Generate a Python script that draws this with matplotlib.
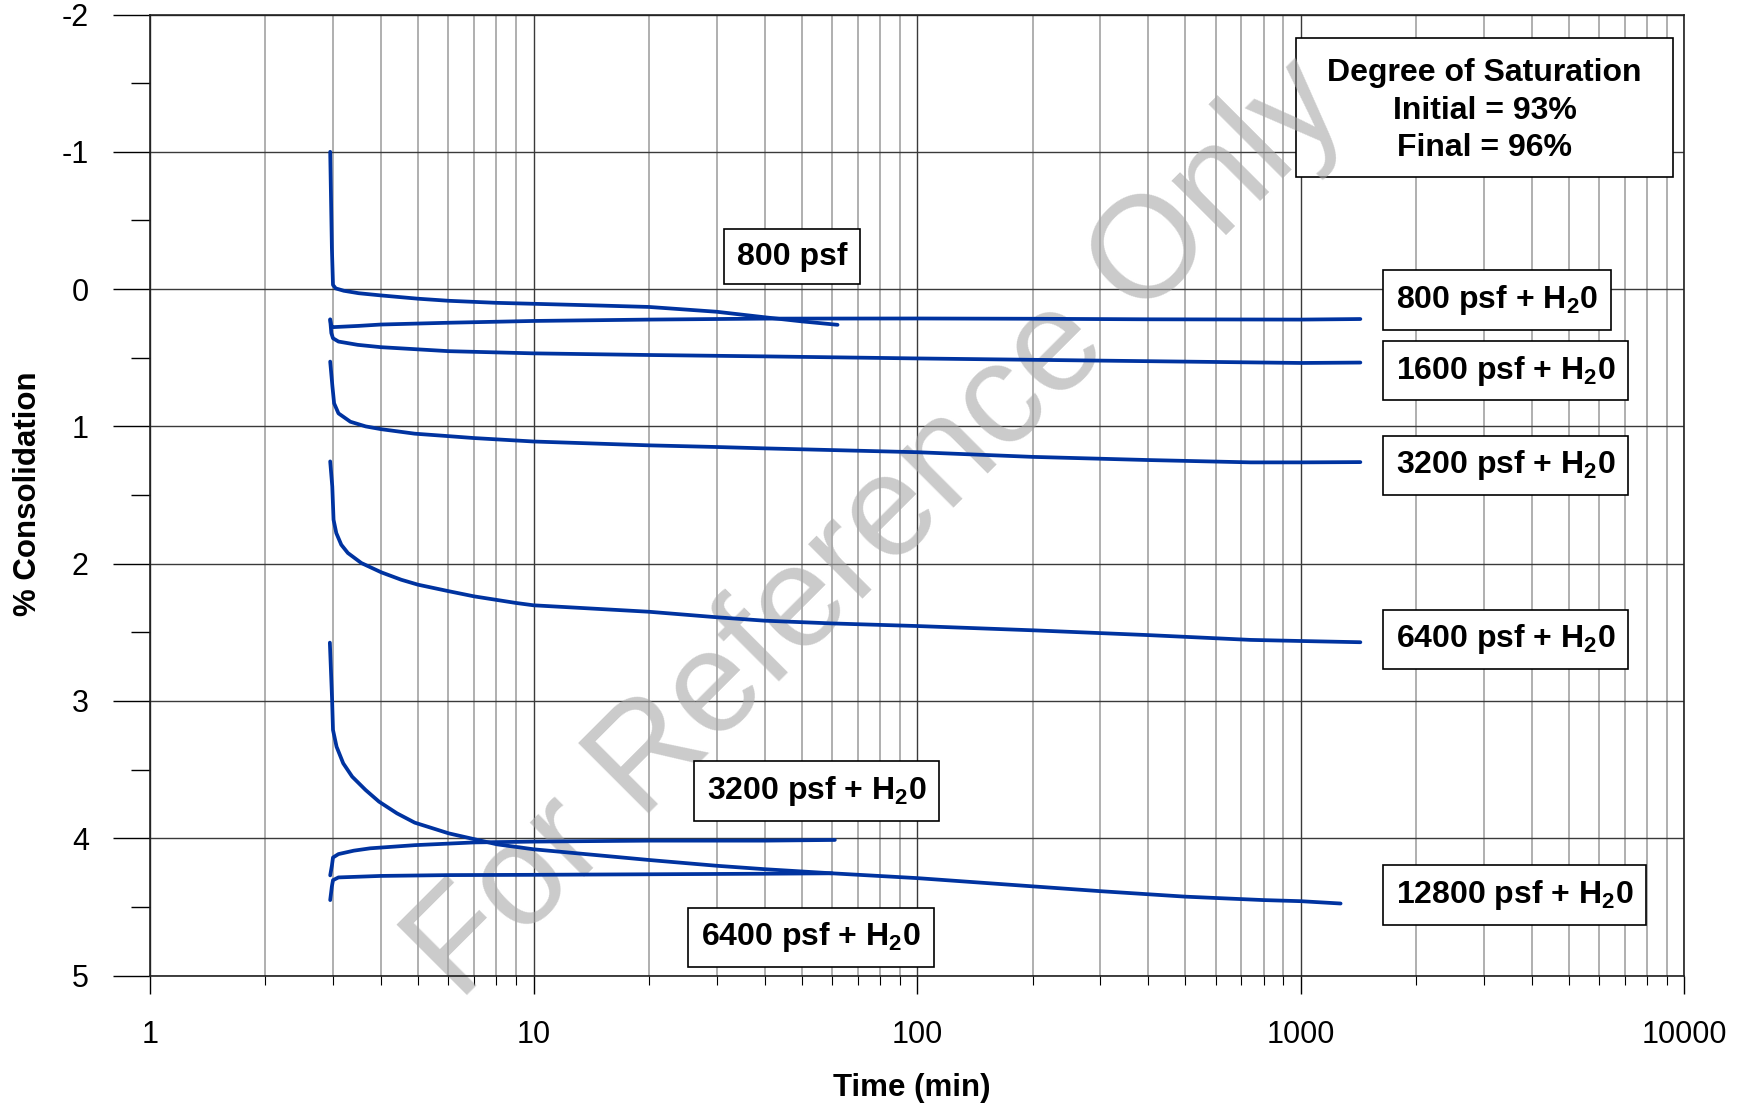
import matplotlib
matplotlib.use("Agg")
import matplotlib.pyplot as plt
from matplotlib.ticker import FixedLocator, FuncFormatter, MultipleLocator, NullFormatter
from matplotlib.patches import Rectangle

plt.rcParams["font.family"] = ["Liberation Sans", "DejaVu Sans"]
plt.rcParams["mathtext.fontset"] = "custom"
plt.rcParams["mathtext.rm"] = "Liberation Sans:bold"
plt.rcParams["mathtext.it"] = "Liberation Sans:bold"
plt.rcParams["mathtext.bf"] = "Liberation Sans:bold"

# --- data (time in min, % consolidation) ---
t_800 = [2.95, 2.98, 3.0, 3.05, 3.2, 3.5, 4, 5, 6, 8, 10, 15, 20, 30, 40, 50, 62]
y_800 = [-1.0, -0.3, -0.03, -0.005, 0.012, 0.03, 0.046, 0.07, 0.085, 0.10,
         0.107, 0.12, 0.13, 0.165, 0.205, 0.235, 0.26]

t_800w = [2.95, 2.97, 3.0, 3.5, 4, 6, 10, 20, 40, 100, 200, 400, 1000, 1430]
y_800w = [0.22, 0.27, 0.277, 0.268, 0.258, 0.245, 0.232, 0.222, 0.215, 0.214,
          0.216, 0.22, 0.222, 0.218]

t_1600w = [2.95, 2.97, 3.0, 3.1, 3.48, 4, 6, 10, 20, 40, 100, 200, 400, 1000, 1430]
y_1600w = [0.224, 0.32, 0.358, 0.382, 0.406, 0.423, 0.452, 0.468, 0.48, 0.49,
           0.505, 0.515, 0.525, 0.538, 0.535]

t_3200w = [2.95, 2.99, 3.02, 3.1, 3.33, 3.65, 4, 4.9, 6, 7, 10, 20, 30, 40,
           100, 200, 400, 740, 1000, 1430]
y_3200w = [0.528, 0.71, 0.832, 0.905, 0.966, 1.0, 1.02, 1.053, 1.071, 1.085,
           1.11, 1.138, 1.15, 1.16, 1.188, 1.222, 1.245, 1.262, 1.262, 1.26]

t_6400w = [2.95, 2.987, 3.01, 3.06, 3.153, 3.28, 3.556, 4.01, 4.52, 5, 6, 7, 9,
           10, 20, 30, 40, 60, 100, 200, 400, 740, 1000, 1430]
y_6400w = [1.255, 1.437, 1.68, 1.777, 1.862, 1.922, 1.995, 2.063, 2.117, 2.153,
           2.2, 2.238, 2.286, 2.303, 2.35, 2.39, 2.415, 2.435, 2.454, 2.485,
           2.52, 2.555, 2.563, 2.572]

t_12800w = [2.944, 2.984, 3.0, 3.065, 3.19, 3.366, 3.648, 3.954, 4.403, 4.9,
            6.01, 7.02, 8.03, 10, 20, 30, 40, 60, 100, 200, 300, 500, 800,
            1000, 1270]
y_12800w = [2.575, 2.993, 3.211, 3.333, 3.454, 3.551, 3.648, 3.733, 3.818,
            3.886, 3.964, 4.007, 4.044, 4.08, 4.158, 4.2, 4.225, 4.255, 4.29,
            4.35, 4.385, 4.425, 4.45, 4.458, 4.475]

# unload steps
t_3200u = [2.95, 2.98, 3.0, 3.1, 3.4, 3.75, 4.9, 7, 10, 20, 40, 61]
y_3200u = [4.27, 4.20, 4.14, 4.115, 4.09, 4.073, 4.05, 4.03, 4.024, 4.017,
           4.017, 4.012]

t_6400u = [2.95, 2.98, 3.0, 3.1, 4, 6, 10, 20, 40, 60]
y_6400u = [4.45, 4.35, 4.305, 4.285, 4.274, 4.268, 4.266, 4.262, 4.258, 4.255]

series = [(t_800, y_800), (t_800w, y_800w), (t_1600w, y_1600w),
          (t_3200w, y_3200w), (t_6400w, y_6400w), (t_12800w, y_12800w),
          (t_3200u, y_3200u), (t_6400u, y_6400u)]

H2O = "H$_2$0"
# labels: (text, x, y, horizontal alignment)
labels = [
    ("800 psf", 47.3, -0.236, "center"),
    ("800 psf + " + H2O, 1770, 0.081, "left"),
    ("1600 psf + " + H2O, 1770, 0.593, "left"),
    ("3200 psf + " + H2O, 1770, 1.284, "left"),
    ("6400 psf + " + H2O, 1770, 2.552, "left"),
    ("12800 psf + " + H2O, 1770, 4.413, "left"),
    ("3200 psf + " + H2O, 54.7, 3.657, "center"),
    ("6400 psf + " + H2O, 52.9, 4.722, "center"),
]

x_ticks = [1, 10, 100, 1000, 10000]
y_ticks = [-2, -1, 0, 1, 2, 3, 4, 5]

line_color = "#0033a0"

fig = plt.figure(figsize=(17.5, 11.07), dpi=100)
ax = fig.add_axes([0.0857, 0.1187, 0.8768, 0.8682])

for t, y in series:
    ax.plot(t, y, color=line_color, lw=2.7, zorder=3,
            solid_capstyle="round", solid_joinstyle="round")

ax.set_xscale("log")
ax.set_xlim(1, 10000)
ax.set_ylim(5, -2)

ax.xaxis.set_major_locator(FixedLocator(x_ticks))
ax.xaxis.set_major_formatter(FuncFormatter(lambda v, p: f"{v:.0f}"))
ax.xaxis.set_minor_locator(FixedLocator(
    [m * d for d in (1, 10, 100, 1000) for m in range(2, 10)]))
ax.xaxis.set_minor_formatter(NullFormatter())
ax.yaxis.set_major_locator(FixedLocator(y_ticks))
ax.yaxis.set_major_formatter(FuncFormatter(lambda v, p: f"{v:.0f}"))
ax.yaxis.set_minor_locator(MultipleLocator(0.5))

ax.grid(True, which="major", axis="both", color="#3a3a3a", lw=1.0)
ax.grid(True, which="minor", axis="x", color="#9a9a9a", lw=1.1)

ax.tick_params(axis="y", which="major", direction="out", length=27, width=1,
               pad=17, labelsize=22)
ax.tick_params(axis="y", which="minor", direction="out", length=14, width=1)
ax.tick_params(axis="x", which="major", direction="out", length=13, width=1,
               pad=19, labelsize=22)
ax.tick_params(axis="x", which="minor", direction="out", length=6.5, width=0.8)
for s in ax.spines.values():
    s.set_color("#202020")
    s.set_linewidth(1.2)

for text, x, y, ha in labels:
    ax.text(x, y, text, ha=ha, va="center", fontsize=23, fontweight="bold",
            zorder=5,
            bbox=dict(boxstyle="square,pad=0.4", fc="white", ec="black", lw=1.2))

# degree of saturation box
ax.add_patch(Rectangle((0.747, 0.831), 0.2456, 0.1445, transform=ax.transAxes,
                       fc="white", ec="black", lw=1.2, zorder=2))
ax.text(0.8698, 0.900, "Degree of Saturation\nInitial = 93%\nFinal = 96%",
        transform=ax.transAxes, ha="center", va="center", fontsize=23,
        fontweight="bold", linespacing=1.32, zorder=6)

ax.text(0.502, 0.521, "For Reference Only", transform=fig.transFigure,
        fontsize=104, rotation=45, color="#a8a8a8", alpha=0.6,
        ha="center", va="center", rotation_mode="anchor", zorder=2.5)

fig.text(0.016, 0.554, "% Consolidation", rotation=90, ha="center",
         va="center", fontsize=22.5, fontweight="bold")
fig.text(0.521, 0.017, "Time (min)", ha="center", va="center", fontsize=22.5,
         fontweight="bold")

fig.savefig("out.png", dpi=100)
